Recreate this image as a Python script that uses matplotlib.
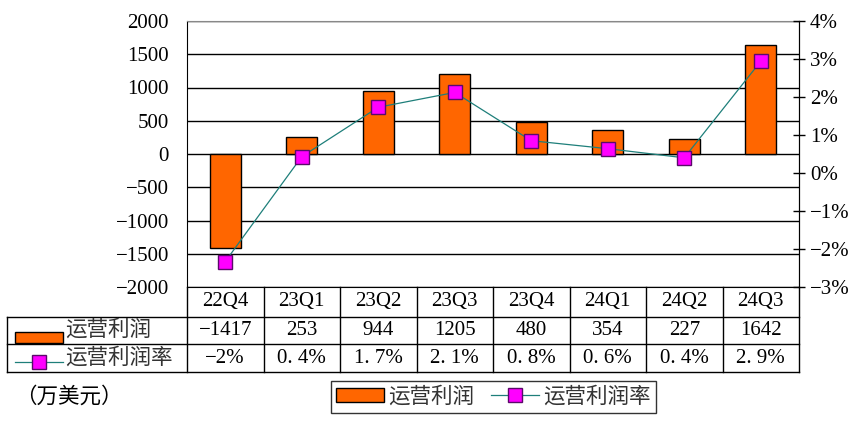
import matplotlib
matplotlib.use("Agg")
import matplotlib.pyplot as plt
from matplotlib.lines import Line2D
from matplotlib.patches import Rectangle

plt.rcParams['font.family'] = ['Liberation Serif', 'Noto Sans CJK SC', 'DejaVu Sans']
plt.rcParams['axes.unicode_minus'] = True

# data
quarters = ["22Q4", "23Q1", "23Q2", "23Q3", "23Q4", "24Q1", "24Q2", "24Q3"]
op_profit = [-1417, 253, 944, 1205, 480, 354, 227, 1642]
op_margin = [-2.33, 0.43, 1.73, 2.12, 0.85, 0.64, 0.40, 2.94]
margin_labels = ["−2%", "0. 4%", "1. 7%", "2. 1%", "0. 8%", "0. 6%", "0. 4%", "2. 9%"]
bar_name = "运营利润"
line_name = "运营利润率"
unit = "（万美元）"

BAR_C = "#FF6600"
LINE_C = "#1E7F7A"
MARK_C = "#FF00FF"
MARK_E = "#5A0A6A"
FS = 15
CFS = 15.5  # chinese text

fig = plt.figure(figsize=(8.59, 4.32), dpi=100)
ax = fig.add_axes([187 / 859, 145 / 432, 612 / 859, 266 / 432])
x = list(range(len(quarters)))

ax.bar(x, op_profit, width=0.4, color=BAR_C, edgecolor="black", linewidth=1, zorder=3)
ax.set_xlim(-0.5, len(quarters) - 0.5)
ax.set_ylim(-2000, 2000)
ax.set_yticks(range(-2000, 2001, 500))
ax.set_xticks([])
ax.yaxis.grid(True, color="black", linewidth=1)
ax.set_axisbelow(True)
ax.tick_params(axis="y", length=0, pad=13, labelsize=FS)
ax.set_yticklabels([str(v).replace("-", "−") for v in range(-2000, 2001, 500)])
ax.spines["top"].set_color("#888888")
for s in ["left", "bottom", "right"]:
    ax.spines[s].set_color("black")

ax2 = ax.twinx()
ax2.plot(x, op_margin, color=LINE_C, linewidth=0.9, marker="s", markersize=10,
         markerfacecolor=MARK_C, markeredgecolor=MARK_E, markeredgewidth=1, zorder=4)
ax2.set_ylim(-3, 4)
ax2.set_yticks(range(-3, 5))
ax2.set_yticklabels([f"{v}%".replace("-", "−") for v in range(-3, 5)])
ax2.tick_params(axis="y", direction="inout", length=8, width=1, pad=4, labelsize=FS)
for s in ["top", "left", "bottom"]:
    ax2.spines[s].set_visible(False)

# data table below the plot
tr = ax.transAxes
n = len(quarters)
left = -0.294
rows = [0, -0.111, -0.214, -0.320]
kw = dict(transform=tr, color="black", linewidth=1, clip_on=False)
for y in rows[1:]:
    ax.add_line(Line2D([left, 1], [y, y], **kw))
ax.add_line(Line2D([left, left], [rows[1], rows[3]], **kw))
for i in range(n + 1):
    ax.add_line(Line2D([i / n, i / n], [0, rows[3]], **kw))

for i in range(n):
    cx = (i + 0.5) / n
    ax.text(cx, (rows[0] + rows[1]) / 2, quarters[i], transform=tr, ha="center", va="center", fontsize=FS)
    ax.text(cx, (rows[1] + rows[2]) / 2, str(op_profit[i]).replace("-", "−"), transform=tr,
            ha="center", va="center", fontsize=FS)
    ax.text(cx, (rows[2] + rows[3]) / 2, margin_labels[i], transform=tr, ha="center", va="center", fontsize=FS)

# row label swatches
ax.add_patch(Rectangle((-0.281, -0.210), 0.078, 0.042, transform=tr, facecolor=BAR_C,
                       edgecolor="black", linewidth=1, clip_on=False))
ax.text(-0.199, (rows[1] + rows[2]) / 2, bar_name, transform=tr, ha="left", va="center",
        fontsize=CFS, color="#333333")
ax.add_line(Line2D([-0.281, -0.203], [-0.282, -0.282], transform=tr, color=LINE_C,
                   linewidth=0.9, clip_on=False))
ax.add_line(Line2D([-0.242], [-0.282], transform=tr, marker="s", markersize=10,
                   markerfacecolor=MARK_C, markeredgecolor=MARK_E, linestyle="none", clip_on=False))
ax.text(-0.199, (rows[2] + rows[3]) / 2, line_name, transform=tr, ha="left", va="center",
        fontsize=CFS, color="#333333")

fig.text(15 / 859, 1 - 397 / 432, unit, ha="left", va="center", fontsize=CFS)

handles = [Rectangle((0, 0), 1, 1, facecolor=BAR_C, edgecolor="black", linewidth=1),
           Line2D([], [], color=LINE_C, linewidth=0.9, marker="s", markersize=10,
                  markerfacecolor=MARK_C, markeredgecolor=MARK_E)]
leg = fig.legend(handles, [bar_name, line_name], loc="center", bbox_to_anchor=(0.5745, 0.081),
                 ncol=2, fontsize=CFS, frameon=True, fancybox=False, edgecolor="black",
                 handlelength=2.2, handleheight=0.65, handletextpad=0.2, columnspacing=0.8,
                 borderpad=0.25, borderaxespad=0)
leg.get_frame().set_linewidth(1)
for t in leg.get_texts():
    t.set_color("#333333")

fig.savefig("out.png", dpi=100, facecolor="white")
